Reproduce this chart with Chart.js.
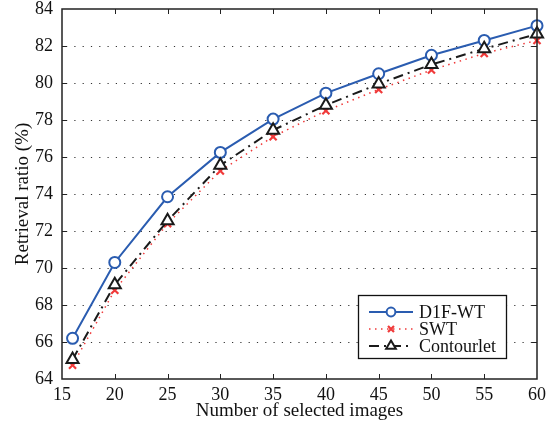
<!DOCTYPE html>
<html>
<head>
<meta charset="utf-8">
<script src="https://cdn.jsdelivr.net/npm/chart.js@4"></script>
<style>
html,body{margin:0;padding:0;background:#fff;}
canvas{display:block;}
</style>
</head>
<body>
<canvas id="c" width="557" height="428"></canvas>
<script>
const imageCounts = [16, 20, 25, 30, 35, 40, 45, 50, 55, 60];
const d1fwt = [66.2, 70.3, 73.85, 76.25, 78.05, 79.45, 80.5, 81.5, 82.3, 83.1];
const swt = [64.75, 68.8, 72.4, 75.25, 77.1, 78.5, 79.65, 80.7, 81.6, 82.3];
const contourlet = [65.05, 69.1, 72.55, 75.55, 77.45, 78.8, 79.95, 81.0, 81.85, 82.65];
const seriesNames = ['D1F-WT', 'SWT', 'Contourlet'];
const xTitle = 'Number of selected images';
const yTitle = 'Retrieval ratio (%)';

const FONT = "'Liberation Serif', 'Times New Roman', serif";
const toPts = (ys) => imageCounts.map((x, i) => ({x: x, y: ys[i]}));

const datasets = [
  {label: seriesNames[0], data: toPts(d1fwt), borderColor: '#2a5cb0', backgroundColor: '#ffffff',
   borderWidth: 2, pointStyle: 'circle', pointRadius: 5.5, pointBorderWidth: 2, pointBorderColor: '#2a5cb0',
   pointBackgroundColor: '#ffffff', order: 3, clip: false, tension: 0},
  {label: seriesNames[1], data: toPts(swt), borderColor: '#f03a3a', backgroundColor: '#f03a3a',
   borderWidth: 1.5, borderDash: [1.5, 4.5], pointStyle: 'crossRot', pointRadius: 5, pointBorderWidth: 2.2,
   pointBorderColor: '#f03a3a', order: 2, clip: false, tension: 0},
  {label: seriesNames[2], data: toPts(contourlet), borderColor: '#1a1a1a', backgroundColor: '#ffffff',
   borderWidth: 2, borderDash: [10, 5, 2, 5], pointStyle: 'triangle', pointRadius: 7, pointBorderWidth: 2,
   pointBorderColor: '#1a1a1a', pointBackgroundColor: '#ffffff', order: 1, clip: false, tension: 0}
];

const framePlugin = {
  id: 'frame',
  beforeDatasetsDraw(chart) {
    const {ctx, chartArea: a, scales: {x, y}} = chart;
    ctx.save();
    ctx.strokeStyle = '#333';
    ctx.lineWidth = 1.2;
    ctx.setLineDash([1.2, 7.1]);
    y.ticks.forEach(t => {
      if (t.value <= y.min || t.value >= y.max) return;
      const py = Math.round(y.getPixelForValue(t.value)) + 0.5;
      ctx.beginPath(); ctx.moveTo(a.left + 4, py); ctx.lineTo(a.right, py); ctx.stroke();
    });
    ctx.restore();
  },
  afterDatasetsDraw(chart) {
    const {ctx, chartArea: a, scales: {x, y}} = chart;
    ctx.save();
    ctx.strokeStyle = '#222';
    ctx.lineWidth = 1.5;
    ctx.setLineDash([]);
    ctx.strokeRect(a.left, a.top, a.right - a.left, a.bottom - a.top);
    ctx.lineWidth = 1;
    const L = 5;
    x.ticks.forEach(t => {
      if (t.value <= x.min || t.value >= x.max) return;
      const px = Math.round(x.getPixelForValue(t.value)) + 0.5;
      ctx.beginPath();
      ctx.moveTo(px, a.bottom); ctx.lineTo(px, a.bottom - L);
      ctx.moveTo(px, a.top); ctx.lineTo(px, a.top + L);
      ctx.stroke();
    });
    y.ticks.forEach(t => {
      if (t.value <= y.min || t.value >= y.max) return;
      const py = Math.round(y.getPixelForValue(t.value)) + 0.5;
      ctx.beginPath();
      ctx.moveTo(a.left, py); ctx.lineTo(a.left + L, py);
      ctx.moveTo(a.right, py); ctx.lineTo(a.right - L, py);
      ctx.stroke();
    });
    ctx.restore();
  },
  afterDraw(chart) {
    const ctx = chart.ctx;
    const bx = 358, by = 295, bw = 148, bh = 63;
    ctx.save();
    ctx.fillStyle = '#fff';
    ctx.fillRect(bx, by, bw, bh);
    ctx.strokeStyle = '#111';
    ctx.lineWidth = 1.3;
    ctx.strokeRect(bx + 0.5, by + 0.5, bw, bh);
    const rows = [312, 329, 346];
    chart.data.datasets.forEach((ds, i) => {
      const yy = rows[i];
      ctx.strokeStyle = ds.borderColor;
      ctx.lineWidth = ds.borderWidth;
      ctx.setLineDash(ds.borderDash || []);
      ctx.beginPath(); ctx.moveTo(369, yy); ctx.lineTo(413, yy); ctx.stroke();
      ctx.setLineDash([]);
      ctx.fillStyle = ds.pointBackgroundColor || ds.borderColor;
      ctx.strokeStyle = ds.pointBorderColor;
      ctx.lineWidth = ds.pointBorderWidth;
      ctx.beginPath();
      const r = ds.pointRadius * 0.8;
      if (ds.pointStyle === 'circle') {
        ctx.arc(391, yy, r, 0, Math.PI * 2); ctx.fill(); ctx.stroke();
      } else if (ds.pointStyle === 'triangle') {
        ctx.moveTo(391, yy - r); ctx.lineTo(391 + r * 0.87, yy + r * 0.5); ctx.lineTo(391 - r * 0.87, yy + r * 0.5);
        ctx.closePath(); ctx.fill(); ctx.stroke();
      } else {
        const d = r * 0.75;
        ctx.moveTo(391 - d, yy - d); ctx.lineTo(391 + d, yy + d);
        ctx.moveTo(391 + d, yy - d); ctx.lineTo(391 - d, yy + d);
        ctx.stroke();
      }
      ctx.fillStyle = '#111';
      ctx.font = "18px " + FONT;
      ctx.textBaseline = 'middle';
      ctx.textAlign = 'left';
      ctx.fillText(ds.label, 419, yy + 1);
    });
    ctx.restore();
  }
};

new Chart(document.getElementById('c'), {
  type: 'line',
  data: {datasets: datasets},
  options: {
    responsive: false,
    animation: false,
    layout: {padding: {top: 8, right: 20, left: 0, bottom: 0}},
    plugins: {legend: {display: false}, tooltip: {enabled: false}},
    scales: {
      x: {
        type: 'linear', min: 15, max: 60,
        ticks: {stepSize: 5, color: '#111', font: {family: FONT, size: 18}, padding: 5, maxRotation: 0},
        grid: {display: false, drawTicks: false},
        border: {display: false},
        title: {display: true, text: xTitle, color: '#111', font: {family: FONT, size: 19}, padding: {top: 0, bottom: 6}},
        afterFit(s) { s.height = 49; s.paddingLeft = 0; s.paddingRight = 0; }
      },
      y: {
        type: 'linear', min: 64, max: 84,
        ticks: {stepSize: 2, color: '#111', font: {family: FONT, size: 18}, padding: 9},
        grid: {display: false, drawTicks: false},
        border: {display: false},
        title: {display: true, text: yTitle, color: '#111', font: {family: FONT, size: 19}, padding: {top: 12, bottom: 0}},
        afterFit(s) { s.width = 62; s.paddingTop = 0; s.paddingBottom = 0; }
      }
    }
  },
  plugins: [framePlugin]
});
</script>
</body>
</html>
